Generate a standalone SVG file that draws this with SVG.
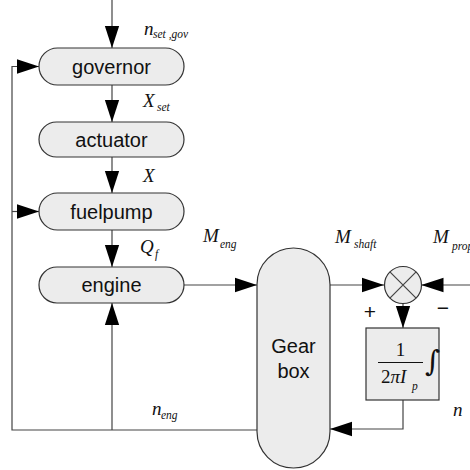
<svg xmlns="http://www.w3.org/2000/svg" width="470" height="470" viewBox="0 0 470 470">
<defs>
<marker id="ah" markerUnits="userSpaceOnUse" markerWidth="22" markerHeight="16" viewBox="0 0 20 13" refX="20" refY="6.5" orient="auto">
<path d="M0,0 L20,6.5 L0,13 Z" fill="#000"/>
</marker>
<style>
.node{fill:#ececec;stroke:#333;stroke-width:1.2}
.lbl{font-family:"Liberation Sans",Arial,sans-serif;font-size:20px;fill:#111;text-anchor:middle}
.m{font-family:"Liberation Serif","Times New Roman",serif;font-style:italic;fill:#111}
.r{font-family:"Liberation Serif","Times New Roman",serif;font-style:normal;fill:#111}
.big{font-size:19px}
.sub{font-size:11.5px}
.sgn{font-family:"Liberation Sans",Arial,sans-serif;font-size:21px;fill:#111;text-anchor:middle}
.ln{fill:none;stroke:#444;stroke-width:1.2}
</style>
</defs>
<rect width="470" height="470" fill="#fff"/>
<g id="connectors">
<path class="ln" d="M112,0 V48" marker-end="url(#ah)"/>
<path class="ln" d="M112,85 V122" marker-end="url(#ah)"/>
<path class="ln" d="M112,157 V193" marker-end="url(#ah)"/>
<path class="ln" d="M112,230 V267" marker-end="url(#ah)"/>
<path class="ln" d="M184,285 H257" marker-end="url(#ah)"/>
<path class="ln" d="M257,430 H12 V66.5 H39" marker-end="url(#ah)"/>
<path class="ln" d="M12,211.5 H39" marker-end="url(#ah)"/>
<path class="ln" d="M112,430 V303" marker-end="url(#ah)"/>
<path class="ln" d="M330,285 H384" marker-end="url(#ah)"/>
<path class="ln" d="M470,285 H421.5" marker-end="url(#ah)"/>
<path class="ln" d="M403,303.5 V328" marker-end="url(#ah)"/>
<path class="ln" d="M403,400 V429 H330" marker-end="url(#ah)"/>
</g>
<g id="governor">
<rect class="node" x="39" y="48" width="145" height="37" rx="18.5"/>
<text class="lbl" x="111.5" y="73.5">governor</text>
</g>
<g id="actuator">
<rect class="node" x="39" y="122" width="145" height="35" rx="17.5"/>
<text class="lbl" x="111.5" y="146.5">actuator</text>
</g>
<g id="fuelpump">
<rect class="node" x="39" y="193" width="145" height="37" rx="18.5"/>
<text class="lbl" x="111.5" y="218.5">fuelpump</text>
</g>
<g id="engine">
<rect class="node" x="39" y="267" width="145" height="36" rx="18"/>
<text class="lbl" x="111.5" y="292">engine</text>
</g>
<g id="gearbox">
<path class="node" d="M257,284.5 A36.5,36.5 0 0 1 330,284.5 V431.5 A36.5,36.5 0 0 1 257,431.5 Z"/>
<text class="lbl" x="293.5" y="353">Gear</text>
<text class="lbl" x="293.5" y="378">box</text>
</g>
<g id="sum">
<circle class="node" cx="403" cy="285" r="18.5"/>
<path class="ln" d="M389.9,271.9 L416.1,298.1 M416.1,271.9 L389.9,298.1"/>
</g>
<g id="integrator">
<rect class="node" x="366" y="328" width="73" height="72"/>
<text class="r" x="400.5" y="356" font-size="19" text-anchor="middle">1</text>
<line x1="378" y1="362.5" x2="423" y2="362.5" stroke="#111" stroke-width="1"/>
<text class="r" x="381" y="383" font-size="19">2<tspan class="m">πI</tspan></text>
<text class="m sub" x="412" y="390">p</text>
<text x="425" y="371" font-family="'DejaVu Serif',serif" font-size="29" fill="#111">∫</text>
</g>
<g id="labels">
<text class="m big" x="144" y="35">n</text><text class="m sub" x="153" y="38">set ,gov</text>
<text class="m big" x="143" y="107">X</text><text class="m sub" x="157" y="111">set</text>
<text class="m big" x="143" y="182">X</text>
<text class="m big" x="140" y="253">Q</text><text class="m sub" x="155" y="258">f</text>
<text class="m big" x="203" y="242">M</text><text class="m sub" x="220" y="248">eng</text>
<text class="m big" x="335" y="243">M</text><text class="m sub" x="354" y="248">shaft</text>
<text class="m big" x="433" y="243">M</text><text class="m sub" x="452" y="250">prop</text>
<text class="sgn" x="370" y="319">+</text>
<text class="sgn" x="443" y="315">−</text>
<text class="m big" x="453" y="416">n</text>
<text class="m big" x="152" y="415">n</text><text class="m sub" x="161" y="419">eng</text>
</g>
</svg>
